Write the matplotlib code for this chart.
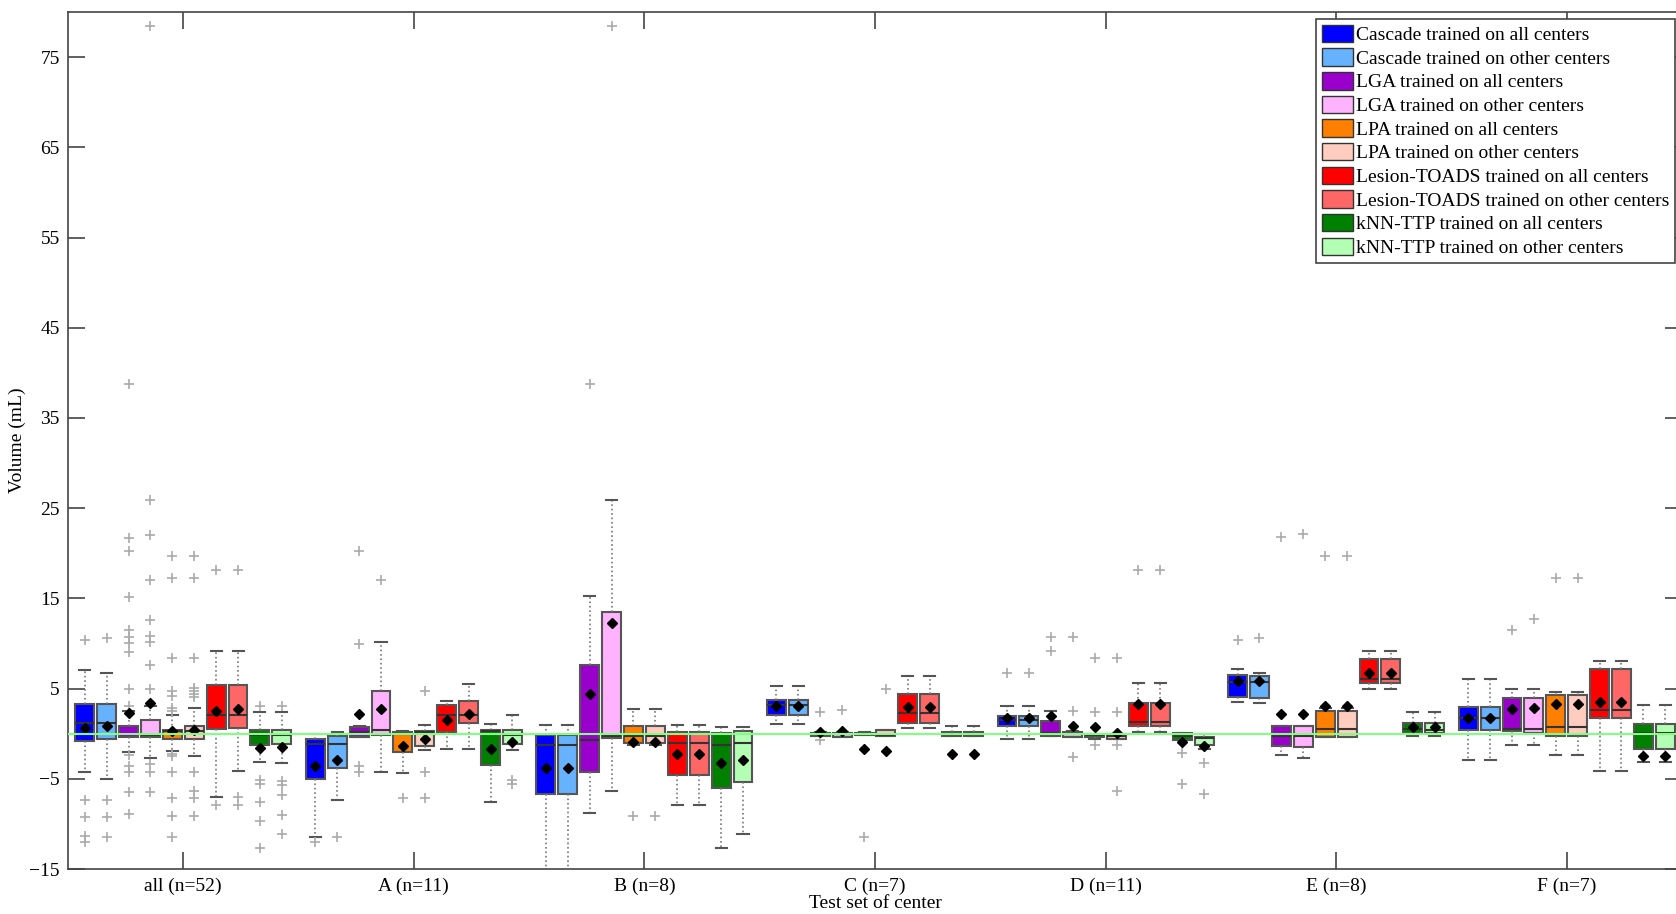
import matplotlib
matplotlib.use("Agg")
import matplotlib.pyplot as plt
from matplotlib.patches import Patch

plt.rcParams['font.family'] = ['Liberation Serif', 'DejaVu Serif']

groups = ["all (n=52)", "A (n=11)", "B (n=8)", "C (n=7)", "D (n=11)", "E (n=8)", "F (n=7)"]
series = ["Cascade trained on all centers", "Cascade trained on other centers",
          "LGA trained on all centers", "LGA trained on other centers",
          "LPA trained on all centers", "LPA trained on other centers",
          "Lesion-TOADS trained on all centers", "Lesion-TOADS trained on other centers",
          "kNN-TTP trained on all centers", "kNN-TTP trained on other centers"]
colors = ["#0000FF", "#66B2FF", "#9900CC", "#FFB3FF", "#FF8000",
          "#FFCCC0", "#FF0000", "#FF6666", "#008000", "#B3FFB3"]

# one row per series, one column per test group (all, A..F)
q3 = [[3.3, -0.6, -0.2, 3.7, 2.0, 6.56, 2.96],
      [3.3, -0.3, -0.2, 3.7, 2.0, 6.4, 2.96],
      [0.85, 0.78, 7.63, 0.1, 1.37, 0.89, 4.0],
      [1.55, 4.78, 13.5, 0.1, 0.22, 0.89, 4.0],
      [0.44, 0.22, 0.85, 0.1, 0.0, 2.48, 4.26],
      [0.8, 0.33, 0.85, 0.4, -0.07, 2.48, 4.26],
      [5.44, 3.18, 0.15, 4.4, 3.44, 8.26, 7.15],
      [5.44, 3.6, 0.15, 4.4, 3.44, 8.26, 7.15],
      [0.4, 0.44, 0.07, 0.15, 0.07, 1.19, 1.04],
      [0.4, 0.44, 0.26, 0.15, -0.37, 1.19, 1.04]]
q1 = [[-0.8, -5.04, -6.7, 2.1, 0.89, 4.07, 0.44],
      [-0.6, -3.85, -6.7, 2.1, 0.89, 4.0, 0.44],
      [-0.4, -0.4, -4.2, -0.26, -0.3, -1.33, 0.3],
      [-0.4, -0.1, -0.5, -0.33, -0.37, -1.48, 0.11],
      [-0.6, -2.07, -1.0, -0.2, -0.37, -0.37, -0.3],
      [-0.63, -1.4, -1.07, -0.26, -0.56, -0.37, -0.3],
      [0.48, 0.15, -4.6, 1.15, 0.81, 5.67, 1.78],
      [0.63, 1.15, -4.6, 1.15, 0.81, 5.67, 1.78],
      [-1.2, -3.5, -6.0, -0.26, -0.74, 0.07, -1.74],
      [-1.15, -1.19, -5.33, -0.26, -1.3, 0.07, -1.74]]
med = [[1.15, -1.15, -1.26, 3.2, 1.48, 5.7, 1.7],
       [1.2, -1.15, -1.26, 3.2, 1.48, 5.7, 1.7],
       [0.0, 0.2, -0.7, 0.0, 0.1, -0.26, 0.52],
       [-0.1, 0.4, -0.3, 0.0, 0.0, -0.3, 0.52],
       [0.33, 0.0, -0.26, 0.0, -0.15, 0.55, 0.74],
       [0.33, 0.2, -0.26, -0.1, -0.3, 0.55, 0.74],
       [2.07, 2.07, -1.0, 2.26, 1.3, 6.1, 2.67],
       [2.07, 2.07, -1.0, 2.26, 1.3, 6.1, 2.67],
       [-0.2, 0.33, -1.26, 0.0, -0.26, 0.52, 0.07],
       [-0.2, -0.15, -1.07, 0.0, -0.5, 0.4, 0.07]]
means = [[0.6, -3.56, -3.85, 3.04, 1.78, 5.85, 1.7],
         [0.8, -2.9, -3.85, 3.04, 1.78, 5.85, 1.7],
         [2.26, 2.15, 4.4, 0.2, 2.0, 2.15, 2.78],
         [3.4, 2.7, 12.3, 0.26, 0.89, 2.15, 2.85],
         [0.35, -1.4, -0.9, -1.7, 0.74, 3.07, 3.33],
         [0.4, -0.6, -0.9, -1.9, 0.07, 3.07, 3.33],
         [2.5, 1.55, -2.3, 2.93, 3.26, 6.78, 3.5],
         [2.74, 2.2, -2.3, 2.93, 3.26, 6.78, 3.5],
         [-1.6, -1.67, -3.26, -2.2, -0.96, 0.7, -2.44],
         [-1.44, -0.9, -2.9, -2.2, -1.33, 0.7, -2.44]]
whishi = [[7.1, 0.0, 0.96, 5.26, 3.07, 7.2, 6.1],
          [6.7, 0.22, 0.96, 5.26, 3.07, 6.7, 6.1],
          [2.5, 0.9, 15.3, 0.15, 2.48, 0.89, 4.93],
          [3.1, 10.2, 25.9, 0.15, 0.3, 0.89, 4.93],
          [2.07, 0.3, 2.74, 0.22, 0.0, 2.85, 4.63],
          [2.85, 0.96, 2.74, 0.4, -0.07, 2.85, 4.63],
          [9.2, 3.6, 0.96, 6.37, 5.6, 9.2, 8.07],
          [9.2, 5.48, 0.96, 6.37, 5.6, 9.2, 8.07],
          [2.44, 1.07, 0.7, 0.85, 0.07, 2.44, 3.15],
          [2.44, 2.07, 0.78, 0.85, -0.07, 2.44, 3.15]]
whislo = [[-4.2, -11.4, -17.0, 1.04, -0.6, 3.56, -2.93],
          [-5.0, -7.3, -17.0, 1.04, -0.6, 3.4, -2.93],
          [-2.0, -0.4, -8.8, -0.3, -0.3, -2.4, -1.26],
          [-2.7, -4.2, -6.4, -0.35, -0.4, -2.7, -1.26],
          [-1.9, -4.37, -1.26, -0.2, -0.6, -0.37, -2.4],
          [-2.44, -1.85, -1.26, -0.26, -0.56, -0.37, -2.4],
          [-7.0, -1.67, -7.9, 0.63, 0.19, 4.93, -4.1],
          [-4.15, -1.67, -7.9, 0.63, 0.19, 4.93, -4.1],
          [-3.1, -7.6, -12.7, -0.26, -0.74, -0.26, -3.15],
          [-3.2, -1.85, -11.1, -0.26, -1.67, -0.26, -3.15]]
fliers = [
    [[10.4, -7.3, -9.2, -11.3, -12.0], [-12.0], [], [], [6.7], [10.4], []],
    [[10.6, -7.3, -9.2, -11.4], [-11.4], [], [], [6.7], [10.6], []],
    [[38.8, 21.7, 20.3, 15.2, 11.5, 10.7, 10.0, 9.1, 4.9, 3.1, -2.4, -3.6, -4.3, -6.5, -8.9],
     [20.3, 9.9, -3.6, -4.3], [38.8], [2.44, -0.7], [10.7, 9.15], [21.8], [11.5]],
    [[78.5, 25.9, 22.0, 17.0, 12.6, 10.8, 10.2, 7.6, 4.9, -3.4, -4.2, -6.5],
     [17.0], [78.5], [2.63], [10.7, 2.48, -2.6], [22.1], [12.7]],
    [[19.7, 17.3, 8.4, 4.7, 4.2, 2.85, 2.55, -2.2, -2.5, -4.3, -7.1, -9.1, -11.5],
     [-7.1], [-9.1], [-11.5], [8.4, 2.4, -1.3], [19.7], [17.3]],
    [[19.7, 17.3, 8.4, 5.1, 4.7, 4.4, 4.1, -4.3, -6.3, -7.1, -9.1],
     [4.7, -4.3, -7.1], [-9.1], [5.0], [8.4, 2.4, -1.3, -6.3], [19.7], [17.3]],
    [[18.1, -7.9], [], [], [], [18.1], [], []],
    [[18.1, -7.0, -7.9], [], [], [], [18.1], [], []],
    [[3.1, -5.1, -5.6, -7.6, -9.7, -12.7], [], [], [], [-2.15, -5.56], [], []],
    [[3.1, -5.2, -5.7, -6.8, -9.0, -11.1], [-5.1, -5.6], [], [], [-3.2, -6.7], [], []],
]

W, H = 1676, 914
fig = plt.figure(figsize=(W / 100, H / 100), dpi=100, facecolor="white")
ax = fig.add_axes([68 / W, 1 - 869 / H, (1682 - 68) / W, (869 - 12) / H])

step = 0.095
edge = "#555555"
for s in range(len(series)):
    stats = []
    pos = []
    for g in range(len(groups)):
        stats.append(dict(med=med[s][g], q1=q1[s][g], q3=q3[s][g],
                          whislo=whislo[s][g], whishi=whishi[s][g],
                          mean=means[s][g], fliers=fliers[s][g]))
        pos.append(g + 1 + (s - 4.5) * step)
    ax.bxp(stats, positions=pos, widths=0.082, capwidths=0.048,
           patch_artist=True, showmeans=True, manage_ticks=False,
           boxprops=dict(facecolor=colors[s], edgecolor=edge, linewidth=1.5),
           whiskerprops=dict(color="#777777", linestyle=":", linewidth=1.2),
           capprops=dict(color=edge, linewidth=1.5),
           medianprops=dict(color="#333333", linewidth=1.5),
           meanprops=dict(marker="D", markerfacecolor="black", markeredgecolor="black", markersize=5),
           flierprops=dict(marker="+", markeredgecolor="#AAAAAA", markersize=7, markeredgewidth=1.2))

ax.axhline(0, color="#80FF80", linewidth=1.5, zorder=6)

ax.set_xlim(0.5, 7.5)
ax.set_ylim(-15, 80)
ax.set_xticks(range(1, len(groups) + 1))
ax.set_xticklabels(groups, fontsize=14)
ax.set_yticks(range(-15, 80, 10))
ax.tick_params(axis="both", direction="in", length=12, width=1.2, color="#444444",
               top=True, right=True, labelsize=14, pad=6)
for sp in ax.spines.values():
    sp.set_color("#444444")
    sp.set_linewidth(1.2)
ax.set_xlabel("Test set of center", fontsize=14, labelpad=0)
ax.set_ylabel("Volume (mL)", fontsize=14, labelpad=2)

handles = [Patch(facecolor=c, edgecolor="#333333", linewidth=1.0) for c in colors]
leg = ax.legend(handles, series, loc="upper right", bbox_to_anchor=(1675 / W, 1 - 19 / H),
                bbox_transform=fig.transFigure, borderaxespad=0, fontsize=14,
                handlelength=1.6, handleheight=1.0, handletextpad=0.15,
                labelspacing=0.22, borderpad=0.3, fancybox=False, framealpha=1)
leg.get_frame().set_edgecolor("#444444")
leg.get_frame().set_linewidth(1.2)

fig.savefig("out.png", dpi=100)
